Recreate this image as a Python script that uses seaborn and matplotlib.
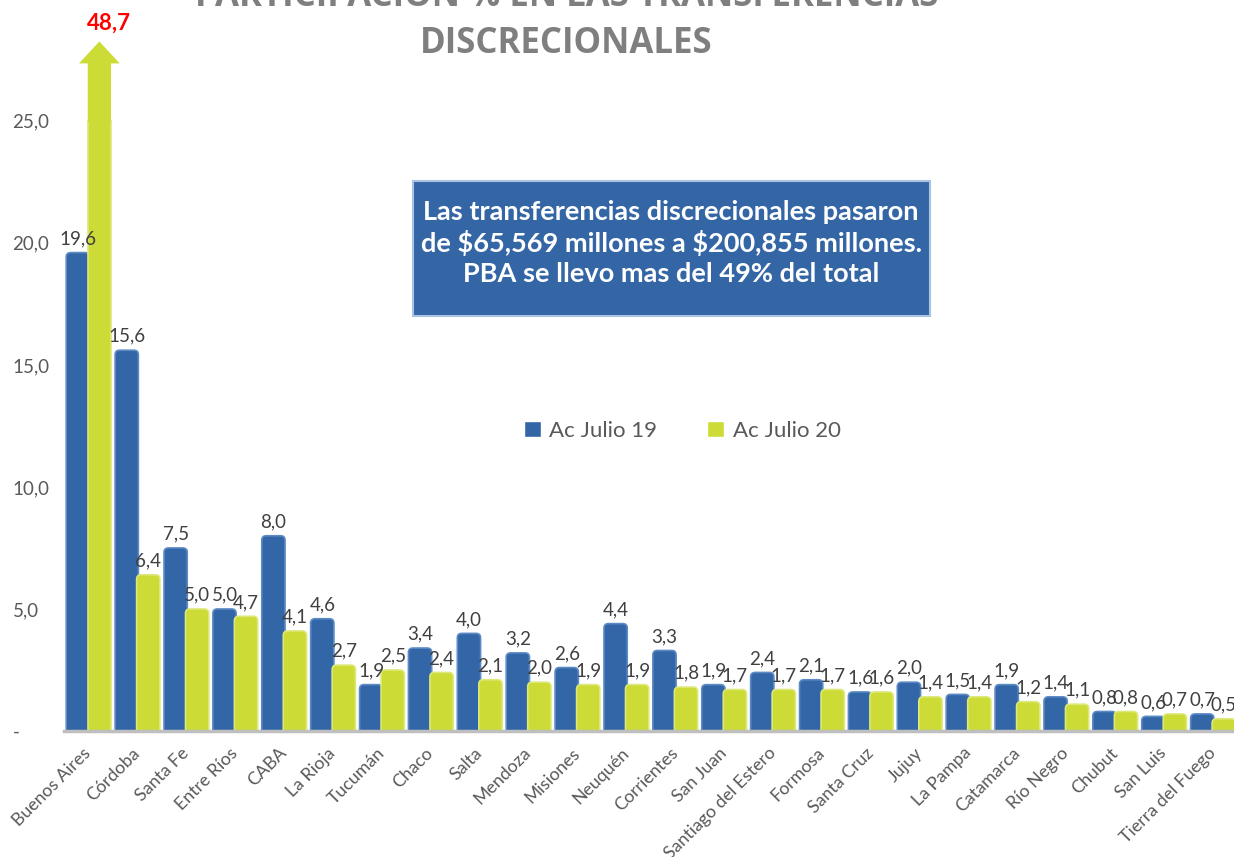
import numpy as np
import pandas as pd
import matplotlib.pyplot as plt
import seaborn as sns
from matplotlib.patches import FancyArrow, FancyBboxPatch

# ---------- DATA ----------
provincias = ["Buenos Aires", "Córdoba", "Santa Fe", "Entre Ríos", "CABA", "La Rioja",
              "Tucumán", "Chaco", "Salta", "Mendoza", "Misiones", "Neuquén", "Corrientes",
              "San Juan", "Santiago del Estero", "Formosa", "Santa Cruz", "Jujuy", "La Pampa",
              "Catamarca", "Río Negro", "Chubut", "San Luis", "Tierra del Fuego"]
julio19 = [19.6, 15.6, 7.5, 5.0, 8.0, 4.6, 1.9, 3.4, 4.0, 3.2, 2.6, 4.4, 3.3,
           1.9, 2.4, 2.1, 1.6, 2.0, 1.5, 1.9, 1.4, 0.8, 0.6, 0.7]
julio20 = [48.7, 6.4, 5.0, 4.7, 4.1, 2.7, 2.5, 2.4, 2.1, 2.0, 1.9, 1.9, 1.8,
           1.7, 1.7, 1.7, 1.6, 1.4, 1.4, 1.2, 1.1, 0.8, 0.7, 0.5]
series = ["Ac Julio 19", "Ac Julio 20"]
y_ticks = [0, 5, 10, 15, 20, 25]
y_tick_labels = ["-", "5,0", "10,0", "15,0", "20,0", "25,0"]
tope = 25.0  # axis break: bars above this get an arrow

AZUL = "#3366A6"
VERDE = "#CCDB35"
GRIS = "#595959"

# ---------- BUILD TABLE ----------
df = pd.DataFrame({
    "Provincia": provincias * 2,
    "Serie": [series[0]] * len(provincias) + [series[1]] * len(provincias),
    "Valor": julio19 + julio20,
})
df["Mostrado"] = df["Valor"].clip(upper=tope)

# ---------- PLOT ----------
sns.set_style("white")
plt.rcParams["font.family"] = ["Lato", "DejaVu Sans"]

fig = plt.figure(figsize=(12.34, 8.57), dpi=100)
ax = fig.add_axes([0.052, 0.147, 0.95, 0.826])

sns.barplot(data=df, x="Provincia", y="Mostrado", hue="Serie", order=provincias,
            hue_order=series, palette=[AZUL, VERDE], width=0.88, gap=-0.08,
            saturation=1, ax=ax)

ax.set_ylim(0, 29)
ax.set_xlim(-0.5, 23.48)

# rounded tops, like the source chart
bordes = {AZUL: "#5B8AC4", VERDE: "#DDE87A"}
for cont, color in zip(ax.containers, [AZUL, VERDE]):
    for bar in cont:
        x0, w, h = bar.get_x(), bar.get_width(), bar.get_height()
        bar.set_visible(False)
        estilo = "square,pad=0" if h >= tope else "round,pad=0,rounding_size=0.09"
        ax.add_patch(FancyBboxPatch((x0, -1), w, h + 1, boxstyle=estilo,
                                    mutation_aspect=2.0, facecolor=color,
                                    edgecolor=bordes[color], lw=1.2, zorder=2))

# value labels
for cont, serie in zip(ax.containers, series):
    vals = df[df["Serie"] == serie]["Valor"].tolist()
    for bar, v in zip(cont, vals):
        cx = bar.get_x() + bar.get_width() / 2
        if v > tope:
            # broken bar -> arrow up with red value
            ax.add_patch(FancyArrow(cx, tope - 0.05, 0, 2.4, width=bar.get_width(),
                                    head_width=bar.get_width() * 1.75,
                                    head_length=0.9, length_includes_head=False,
                                    color=VERDE, lw=0, zorder=2))
            ax.text(cx + 0.2, tope + 3.55, f"{v:.1f}".replace(".", ","), ha="center",
                    va="bottom", color="#FF0000", fontsize=16, fontweight="bold",
                    clip_on=False)
        else:
            ax.text(cx, v + 0.22, f"{v:.1f}".replace(".", ","), ha="center",
                    va="bottom", color="#404040", fontsize=13.5, zorder=3)

ax.set_yticks(y_ticks)
ax.set_yticklabels(y_tick_labels, color=GRIS, fontsize=13.5)
ax.tick_params(axis="y", length=0, pad=0)
ax.tick_params(axis="x", length=0, pad=14)
plt.setp(ax.get_xticklabels(), rotation=45, ha="right", va="center",
         rotation_mode="anchor", color=GRIS, fontsize=12.8)
for lab in ax.get_yticklabels():
    lab.set_horizontalalignment("left")
    lab.set_x(-0.044)
ax.set_xlabel("")
ax.set_ylabel("")

for s in ["top", "right", "left"]:
    ax.spines[s].set_visible(False)
ax.spines["bottom"].set_color("#BFBFBF")
ax.spines["bottom"].set_linewidth(2.5)
ax.spines["bottom"].set_zorder(4)

# legend
ax.legend(loc="center", bbox_to_anchor=(0.553, 0.497), bbox_transform=fig.transFigure,
          ncol=2, frameon=False, fontsize=16, handlelength=0.75, handleheight=0.75,
          handletextpad=0.4, columnspacing=2.25, labelcolor=GRIS)

# title (first line runs off the top, as in the source)
fig.text(0.459, 1.003, "PARTICIPACIÓN % EN LAS TRANSFERENCIAS", ha="center", va="center",
         color="#7F7F7F", fontsize=25, fontweight="bold", family=["Open Sans", "DejaVu Sans"])
fig.text(0.459, 0.949, "DISCRECIONALES", ha="center", va="center",
         color="#7F7F7F", fontsize=25, fontweight="bold", family=["Open Sans", "DejaVu Sans"])

# callout box
caja = FancyBboxPatch((413 / 1234, 1 - 316 / 857), 517 / 1234, 135 / 857,
                      boxstyle="square,pad=0", transform=fig.transFigure,
                      facecolor="#3466A5", edgecolor="#A9C3E3", lw=1.5)
fig.add_artist(caja)
fig.text(671 / 1234, 1 - 243 / 857,
         "Las transferencias discrecionales pasaron\nde \\$65,569 millones a \\$200,855 millones.\nPBA se llevo mas del 49% del total",
         ha="center", va="center", color="white", fontsize=19.5, fontweight="bold",
         linespacing=1.3)

fig.savefig("out.png", dpi=100)
